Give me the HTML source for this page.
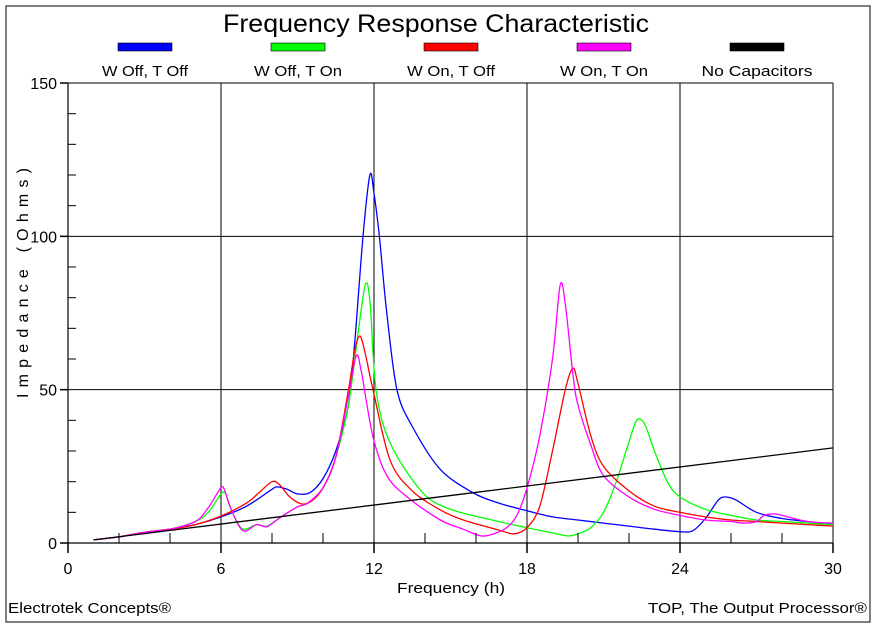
<!DOCTYPE html>
<html><head><meta charset="utf-8"><style>
html,body{margin:0;padding:0;background:#fff;}
svg{display:block;font-family:"Liberation Sans",Arial,sans-serif;}
</style></head><body>
<svg id="chart" width="878" height="630" viewBox="0 0 878 630" xmlns="http://www.w3.org/2000/svg">
<rect x="6" y="6" width="864" height="616" fill="#fff" stroke="#000" stroke-width="1"/>
<text x="436" y="32" text-anchor="middle" font-size="25" textLength="426" lengthAdjust="spacingAndGlyphs">Frequency Response Characteristic</text>
<g id="legend"></g>
<g id="grid"></g>
<g id="series"></g>
<g id="axes"></g>
<text transform="translate(28,283) rotate(-90)" text-anchor="middle" font-size="16" textLength="230" lengthAdjust="spacing">Impedance (Ohms)</text>
<text x="451" y="593" text-anchor="middle" font-size="15" textLength="108" lengthAdjust="spacingAndGlyphs">Frequency (h)</text>
<text x="8" y="613" font-size="15" textLength="163" lengthAdjust="spacingAndGlyphs">Electrotek Concepts®</text>
<text x="867" y="613" text-anchor="end" font-size="15" textLength="219" lengthAdjust="spacingAndGlyphs">TOP, The Output Processor®</text>
</svg>
<script>
const xTicks=[0,6,12,18,24,30];
const yTicks=[0,50,100,150];
const seriesNames=["W Off, T Off","W Off, T On","W On, T Off","W On, T On","No Capacitors"];
const seriesColors=["#0000ff","#00ff00","#ff0000","#ff00ff","#000000"];
const blueX=[1,2,3,4,5,6,7,8,8.2,8.6,9,9.5,10,10.5,11,11.25,11.57,11.84,12.0,12.21,12.5,12.9,13.5,14.6,15.9,16.9,18,19,20,21,22,23,24,24.5,25,25.5,25.8,26.2,27,28,29,30];
const blueY=[1,2,3.5,4.5,6,8.5,12,17.5,18.3,17.5,16,16.5,21,30,45,66,100,120,114,100,75,50,38,24,16.3,13,10.5,8.5,7.5,6.5,5.5,4.5,3.7,4,8,14,15,14,10,8,7,6];
const greenX=[1,2,3,4,5,5.5,6.08,6.3,6.5,6.86,7.4,7.8,8.3,9,9.4,10,10.5,11,11.4,11.67,11.85,12.08,12.63,13.9,15,16.9,18,19,19.6,20,20.5,21,21.5,22,22.3,22.6,23,23.5,24,25,26,27,28,29,30];
const greenY=[1,2,3.5,4.5,7,10,16.6,13,9,4.5,6,5.5,8.2,11.8,13,18,28,45,70,84.5,78,50,32.6,16.5,11,7,5,3.3,2.3,3,5,10,20,33,40,39,30,20,15,11,9,7.5,7,6.5,6];
const redX=[1,2,3,4,5,6,7,7.5,8,8.3,8.7,9.2,9.6,10,10.5,11,11.25,11.45,11.65,11.96,12.63,13.5,14.6,15.5,16.9,17.5,18,18.5,19,19.5,19.8,20,20.5,21,22,23,24,25,26,27,28,29,30];
const redY=[1,2,3.5,4.5,6,8.8,13,16.5,20,19,15,12.7,14,18,28,50,63,67.5,62,50,27,17,10.8,7.5,4.2,3,5,12,30,50,57,52,35,25,17,12,10,8.5,7.5,7,6.5,6,5.5];
const magentaX=[1,2,3,4,5,5.5,6,6.15,6.4,6.86,7.4,7.8,8.3,9,9.4,10,10.5,11,11.3,11.5,11.96,12.5,13.3,14.6,15.5,16.2,16.7,17.2,17.6,18,18.5,19,19.3,19.5,19.8,20,20.5,21,22,23,24,25,26,26.5,27,27.3,27.7,28,29,30];
const magentaY=[1,2,3.5,4.5,7,11.5,18,17,11,4,6,5.3,8.2,11.8,13,18,28,48,61,56,34.6,22,15,7.5,4.5,2.3,3,5,9,18,35,60,84,78,55,45,32,22,15,11,9,7.5,7,6.5,7,9,9.5,9,7,6.5];
const blackX=[1,30];
const blackY=[1,31];
const allX=[blueX,greenX,redX,magentaX,blackX];
const allY=[blueY,greenY,redY,magentaY,blackY];

const L=68,R=833,T=83,B=543,xMax=30,yMax=150;
const sx=v=>L+(v/xMax)*(R-L);
const sy=v=>B-(v/yMax)*(B-T);
const NS="http://www.w3.org/2000/svg";
function mk(tag,attrs,parent){const e=document.createElementNS(NS,tag);for(const k in attrs)e.setAttribute(k,attrs[k]);parent.appendChild(e);return e;}
const grid=document.getElementById('grid'),axes=document.getElementById('axes'),ser=document.getElementById('series'),leg=document.getElementById('legend');

xTicks.forEach(t=>{if(t>0){const l=mk('line',{x1:sx(t),x2:sx(t),y1:T,y2:B,stroke:'#000','stroke-width':1},grid);}});
yTicks.forEach(t=>{if(t>0){const l=mk('line',{x1:L,x2:R,y1:sy(t),y2:sy(t),stroke:'#000','stroke-width':1},grid);}});

function smoothPath(P){
  let d='M'+P[0][0].toFixed(1)+','+P[0][1].toFixed(1);
  for(let i=0;i<P.length-1;i++){
    const p0=P[Math.max(i-1,0)],p1=P[i],p2=P[i+1],p3=P[Math.min(i+2,P.length-1)];
    const t=0.16;
    const c1x=p1[0]+(p2[0]-p0[0])*t,c1y=p1[1]+(p2[1]-p0[1])*t;
    const c2x=p2[0]-(p3[0]-p1[0])*t,c2y=p2[1]-(p3[1]-p1[1])*t;
    d+=' C'+c1x.toFixed(1)+','+c1y.toFixed(1)+' '+c2x.toFixed(1)+','+c2y.toFixed(1)+' '+p2[0].toFixed(1)+','+p2[1].toFixed(1);
  }
  return d;
}
seriesNames.forEach((n,i)=>{
  const P=allX[i].map((x,j)=>[sx(x),sy(allY[i][j])]);
  const p=mk('path',{d:smoothPath(P),fill:'none',stroke:seriesColors[i],'stroke-width':1.3,'stroke-linejoin':'round'},ser);
  
  
});

const ax1=mk('line',{x1:L,x2:L,y1:T,y2:B,stroke:'#000','stroke-width':1.2},axes);


const ax2=mk('line',{x1:L,x2:R,y1:B,y2:B,stroke:'#000','stroke-width':1.2},axes);


for(let v=10;v<yMax;v+=10){if(v%50){const m=mk('line',{x1:L,x2:L+8,y1:sy(v),y2:sy(v),stroke:'#000'},axes);}}
for(let v=2;v<xMax;v+=2){if(v%6){const m=mk('line',{x1:sx(v),x2:sx(v),y1:B,y2:B-10,stroke:'#000'},axes);}}
yTicks.forEach(t=>{
  const m=mk('line',{x1:L-8,x2:L,y1:sy(t),y2:sy(t),stroke:'#000','stroke-width':1.5},axes);
  
  
  const tx=mk('text',{x:L-11,y:sy(t)+6,'text-anchor':'end','font-size':16},axes);tx.textContent=t;
  
  
});
xTicks.forEach(t=>{
  const m=mk('line',{x1:sx(t),x2:sx(t),y1:B,y2:B+10,stroke:'#000','stroke-width':1.5},axes);
  
  
  const tx=mk('text',{x:sx(t),y:B+31,'text-anchor':'middle','font-size':16},axes);tx.textContent=t;
  
  
});

const legCx=[145,298,451,604,757];
const legW=[86,88,88,88,111];
seriesNames.forEach((n,i)=>{
  const r=mk('rect',{x:legCx[i]-27,y:43,width:54,height:8,fill:seriesColors[i],stroke:'#000','stroke-width':0.6},leg);
  
  
  const tx=mk('text',{x:legCx[i],y:76,'text-anchor':'middle','font-size':15,textLength:legW[i],lengthAdjust:'spacingAndGlyphs'},leg);
  tx.textContent=n;
  
  
});
</script>
</body></html>
